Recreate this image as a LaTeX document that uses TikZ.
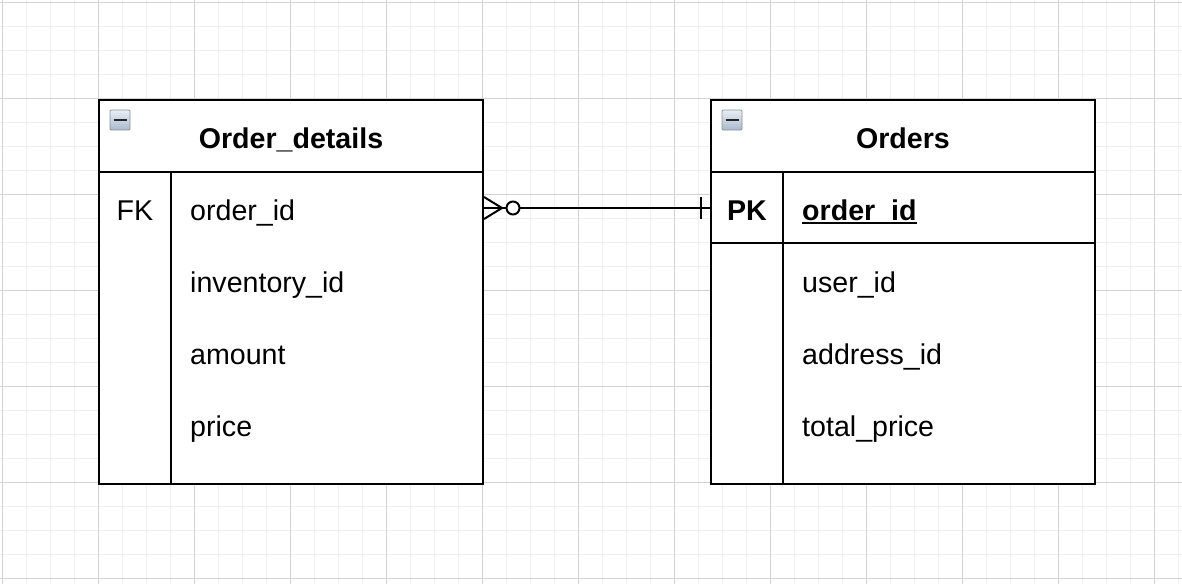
\documentclass[tikz,border=0pt]{standalone}
\usepackage{fontspec}
\setmainfont{Liberation Sans}
\usetikzlibrary{calc}
\definecolor{gridminor}{HTML}{EFEFEF}
\definecolor{gridmajor}{HTML}{D3D3D3}
\definecolor{iconlight}{HTML}{E8EEF5}
\definecolor{icondark}{HTML}{A9B9CC}
\definecolor{iconedge}{HTML}{8C9199}
\tikzset{
  tablebox/.style={draw=black, line width=2pt, fill=white, inner sep=0pt,
    minimum width=384pt, minimum height=384pt},
  rule/.style={draw=black, line width=2pt},
  cell/.style={anchor=base west, inner sep=0pt,
    font=\fontsize{28.6}{34}\selectfont},
  keycell/.style={anchor=base, inner sep=0pt,
    font=\fontsize{28.6}{34}\selectfont},
  title/.style={anchor=base, inner sep=0pt,
    font=\fontsize{28.6}{34}\selectfont\bfseries},
  link/.style={draw=black, line width=2pt},
  fold/.style={inner sep=0pt, minimum size=20pt, draw=iconedge, line width=0.8pt,
    top color=iconlight, bottom color=icondark, rounded corners=1pt},
}
\begin{document}
\begin{tikzpicture}[x=1pt,y=-1pt]
  \useasboundingbox (0,0) rectangle (1182,584);
  \fill[white] (0,0) rectangle (1182,584);
  % background grid
  \foreach \g in {0,...,49} {
    \draw[gridminor, line width=1pt] ({2.3+24*\g},0) -- ({2.3+24*\g},584);
  }
  \foreach \g in {0,...,24} {
    \draw[gridminor, line width=1pt] (0,{2.3+24*\g}) -- (1182,{2.3+24*\g});
  }
  \foreach \g in {0,...,12} {
    \draw[gridmajor, line width=1pt] ({2.3+96*\g},0) -- ({2.3+96*\g},584);
  }
  \foreach \g in {0,...,6} {
    \draw[gridmajor, line width=1pt] (0,{2.3+96*\g}) -- (1182,{2.3+96*\g});
  }

  % table Order_details
  \node[tablebox] (od) at (291,292) {};
  \draw[rule] (99,172) -- (483,172);
  \draw[rule] (171,172) -- (171,484);
  \node[fold] (odicon) at (120,120) {};
  \draw[line width=2.4pt, black!85] (113.5,120) -- (126.5,120);
  \node[title] (odtitle) at (291,148) {Order\_details};
  \node[keycell] (odfk) at (135,220) {FK};
  \node[cell] (odr1) at (190,220) {order\_id};
  \node[cell] (odr2) at (190,292) {inventory\_id};
  \node[cell] (odr3) at (190,364) {amount};
  \node[cell] (odr4) at (190,436) {price};

  % table Orders
  \node[tablebox] (or) at (903,292) {};
  \draw[rule] (711,172) -- (1095,172);
  \draw[rule] (711,243) -- (1095,243);
  \draw[rule] (783,172) -- (783,484);
  \node[fold] (oricon) at (732,120) {};
  \draw[line width=2.4pt, black!85] (725.5,120) -- (738.5,120);
  \node[title] (ortitle) at (903,148) {Orders};
  \node[keycell, font=\fontsize{28.6}{34}\selectfont\bfseries] (orpk) at (747,220) {PK};
  \node[cell, font=\fontsize{28.6}{34}\selectfont\bfseries] (orr1) at (802,220) {order\_id};
  \draw[line width=2pt] ($(orr1.base west)+(0,2.5)$) -- ($(orr1.base east)+(0,2.5)$);
  \node[cell] (orr2) at (802,292) {user\_id};
  \node[cell] (orr3) at (802,364) {address\_id};
  \node[cell] (orr4) at (802,436) {total\_price};

  % relationship: many (optional) to one
  \coordinate (manyend) at (od.east |- 0,208);
  \coordinate (oneend) at (or.west |- 0,208);
  \draw[link] (manyend) -- (oneend);
  \draw[link] ($(manyend)+(0,-11)$) -- ($(manyend)+(18,0)$) -- ($(manyend)+(0,11)$);
  \draw[link, fill=white] ($(manyend)+(29,0)$) circle (6.5pt);
  \draw[link] ($(oneend)+(-9,-11)$) -- ($(oneend)+(-9,11)$);
\end{tikzpicture}
\end{document}
